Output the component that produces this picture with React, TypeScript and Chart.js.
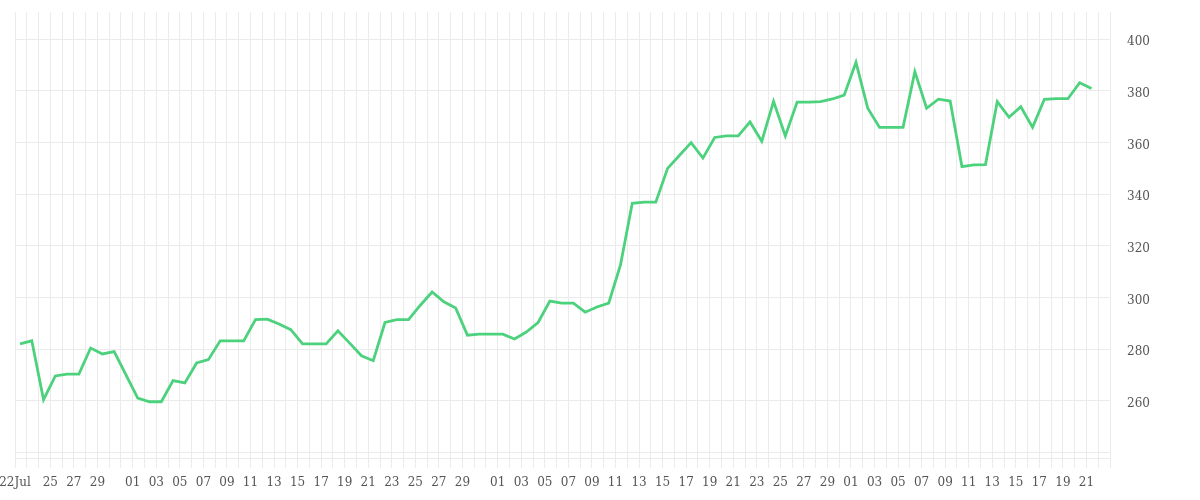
import React, { useEffect, useRef } from "react";
import { Chart, registerables } from "chart.js";

Chart.register(...registerables);

// Daily closing values, one per day starting 22 Jul
const values: number[] = [
  282.0, 283.2, 260.4, 269.6, 270.3, 270.3, 280.4, 278.1, 279.0, 270.0,
  261.0, 259.6, 259.6, 267.8, 266.9, 274.6, 275.9, 283.2, 283.2, 283.2,
  291.4, 291.6, 289.7, 287.5, 282.0, 282.0, 282.0, 287.1, 282.3, 277.4,
  275.5, 290.3, 291.4, 291.4, 297.0, 302.1, 298.3, 295.9, 285.4, 285.8,
  285.8, 285.8, 283.9, 286.6, 290.3, 298.6, 297.8, 297.8, 294.3, 296.3,
  297.8, 312.6, 336.5, 336.9, 336.9, 350.0, 355.0, 360.0, 354.0, 362.0,
  362.6, 362.6, 368.0, 360.5, 376.0, 362.6, 375.7, 375.7, 375.9, 376.9,
  378.4, 391.1, 373.3, 365.9, 365.9, 365.9, 387.5, 373.3, 376.8, 376.1,
  350.7, 351.4, 351.5, 375.9, 369.8, 373.9, 365.9, 376.8, 377.0, 377.0,
  383.2, 381.0,
];

const startYear = 2024;
const startMonth = 6; // July (0-based)
const startDay = 22;
const monthNames = ["Jan", "Feb", "Mar", "Apr", "May", "Jun", "Jul", "Aug", "Sep", "Oct", "Nov", "Dec"];

const yTicks: number[] = [240, 260, 280, 300, 320, 340, 360, 380, 400];
const yMin = 237.8;
const yMax = 410.6;
const xDays = 93; // axis spans 93 days
const lastLabelled = 91;
const sampleOffset = 0.425; // samples taken part-way through each day

function dayLabel(idx: number): string {
  const d = new Date(Date.UTC(startYear, startMonth, startDay + idx));
  const day = d.getUTCDate();
  if (idx === 0) return String(day) + monthNames[d.getUTCMonth()];
  if (idx <= 2 || idx > lastLabelled) return "";
  if (day % 2 === 1 && day !== 31) return day < 10 ? "0" + day : String(day);
  return "";
}

export default function App() {
  const ref = useRef<HTMLCanvasElement | null>(null);

  useEffect(() => {
    if (!ref.current) return;
    const grid = "#ebebeb";
    const font = { family: "'DejaVu Serif', serif", size: 12 };
    const chart = new Chart(ref.current, {
      type: "line",
      data: {
        datasets: [
          {
            data: values.map((v, i) => ({ x: i + sampleOffset, y: v })),
            borderColor: "rgb(76, 209, 125)",
            borderWidth: 2.8,
            pointRadius: 0,
            tension: 0,
            fill: false,
          },
        ],
      },
      options: {
        animation: false,
        responsive: true,
        maintainAspectRatio: false,
        layout: { padding: { top: 12, left: 15, right: 0, bottom: 0 } },
        plugins: { legend: { display: false }, tooltip: { enabled: false } },
        scales: {
          x: {
            type: "linear",
            min: 0,
            max: xDays,
            afterBuildTicks: (scale: any) => {
              const t = [];
              for (let i = 0; i <= xDays; i++) t.push({ value: i });
              scale.ticks = t;
            },
            afterFit: (scale: any) => {
              scale.height = 42;
              scale.paddingLeft = 0;
              scale.paddingRight = 0;
            },
            grid: { color: grid, drawTicks: true, tickLength: 10, lineWidth: 1 },
            border: { display: true, color: grid },
            ticks: {
              autoSkip: false,
              maxRotation: 0,
              minRotation: 0,
              padding: 8,
              color: "#555",
              font,
              callback: (v: any) => dayLabel(Math.round(Number(v))),
            },
          },
          y: {
            type: "linear",
            position: "right",
            min: yMin,
            max: yMax,
            afterBuildTicks: (scale: any) => {
              scale.ticks = yTicks.map((v) => ({ value: v }));
            },
            afterFit: (scale: any) => {
              scale.width = 90;
              scale.paddingTop = 0;
              scale.paddingBottom = 0;
            },
            grid: { color: grid, drawTicks: false, lineWidth: 1 },
            border: { display: true, color: grid },
            ticks: {
              padding: 17,
              labelOffset: 3,
              color: "#555",
              font,
              callback: (v: any) => (Number(v) === 240 ? "" : String(v)),
            },
          },
        },
      },
    });
    return () => chart.destroy();
  }, []);

  return (
    <div style={{ position: "absolute", left: 0, top: 0, width: 1200, height: 500, background: "#fff" }}>
      <canvas ref={ref} />
    </div>
  );
}
